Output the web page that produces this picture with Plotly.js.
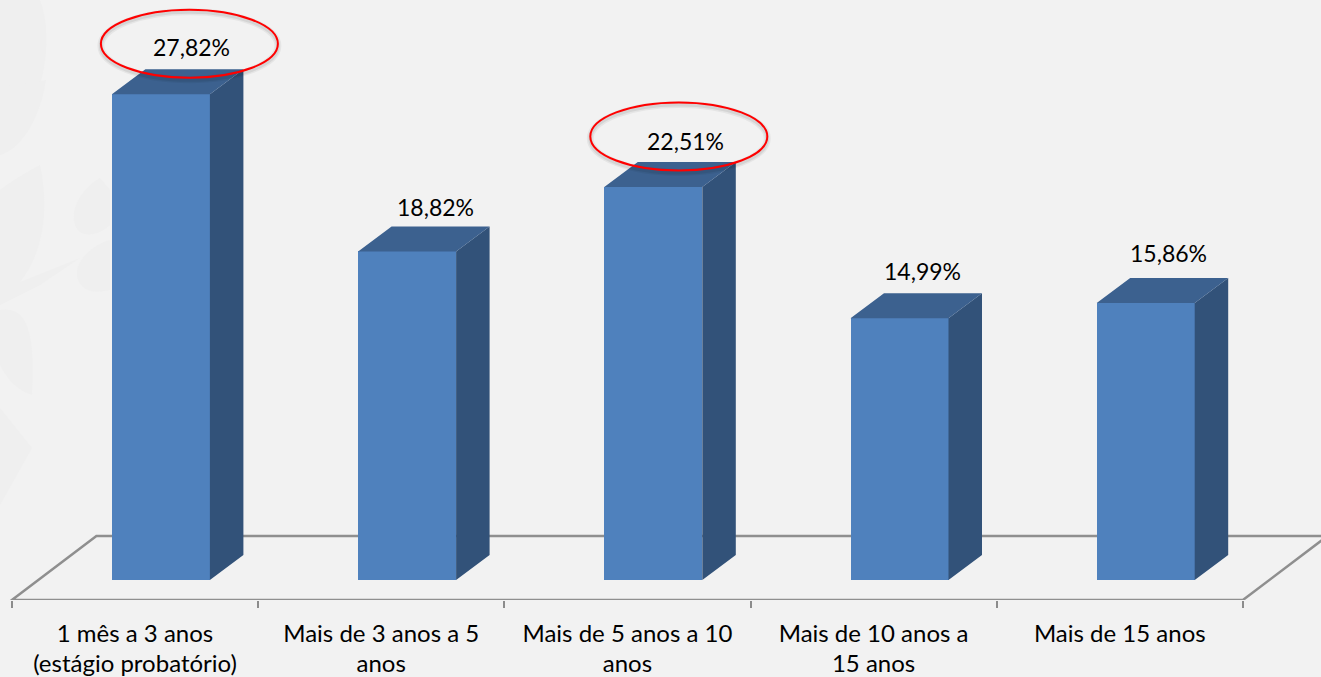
<!DOCTYPE html>
<html><head><meta charset="utf-8">
<script src="https://cdn.plot.ly/plotly-3.0.1.min.js"></script>
<style>html,body{margin:0;padding:0;background:#f2f2f2;overflow:hidden}#c{width:1321px;height:677px}</style>
</head><body><div id="c"></div>
<script>
const categories = ["1 mês a 3 anos","Mais de 3 anos a 5","Mais de 5 anos a 10","Mais de 10 anos a","Mais de 15 anos"];
const categoriesLine2 = ["(estágio probatório)","anos","anos","15 anos",""];
const values = [27.82,18.82,22.51,14.99,15.86];
const highlighted = [0,2];

// layout constants (pixels per unit, 3-D offsets)
const W=1321,H=677,floorPx=600,zeroPx=580,pxPerUnit=17.46,xStep=246.2,x0Px=135;
const xr=[(0-x0Px)/xStep,(W-x0Px)/xStep], yr=[(zeroPx-floorPx)/pxPerUnit,zeroPx/pxPerUnit];
const barOff=25.9/xStep, barW=98/xStep, depthX=33.5/xStep, depthY=25/pxPerUnit;
const labelDx=[30.5,28.5,32.5,22.5,22.5], labelDy=[47,44,46,47,50];
const pos=values.map((_,i)=>i), barX=pos.map(p=>p+barOff);
const ticks=[-0.5,0.5,1.5,2.5,3.5,4.5];

const sideX=[],sideY=[],topX=[],topY=[];
values.forEach((v,i)=>{
  const r=barX[i]+barW/2,l=barX[i]-barW/2;
  sideX.push(r,r+depthX,r+depthX,r,r,null); sideY.push(0,depthY,v+depthY,v,0,null);
  topX.push(l,l+depthX,r+depthX,r,l,null); topY.push(v,v+depthY,v+depthY,v,v,null);
});
const traces=[
 {type:'bar',x:barX,y:values,width:barW,marker:{color:'#4f81bd',line:{width:0}},hoverinfo:'skip'},
 {type:'scatter',mode:'lines',xaxis:'x2',x:sideX,y:sideY,fill:'toself',fillcolor:'#325279',line:{width:0,color:'#325279'},hoverinfo:'skip',cliponaxis:false},
 {type:'scatter',mode:'lines',xaxis:'x2',x:topX,y:topY,fill:'toself',fillcolor:'#3c618f',line:{width:0,color:'#3c618f'},hoverinfo:'skip',cliponaxis:false}
];

const fb=yr[0], bb=(zeroPx-536)/pxPerUnit, dbx=84.5/xStep;
const floorPath=`M ${ticks[0]} ${fb} L ${ticks[0]+dbx} ${bb} L ${ticks[5]+dbx} ${bb} L ${ticks[5]} ${fb} Z`;

const leaves=[
 "M0,0 L40,0 C55,40 45,110 0,150 Z",
 "M0,86 C30,84 46,80 46,80 C40,120 20,150 0,155 Z",
 "M0,190 C20,175 40,165 40,165 C50,210 45,270 0,300 Z",
 "M100,178 C80,190 70,210 75,225 C80,240 100,235 110,225 L110,190 Z",
 "M110,240 C90,245 72,265 78,280 C85,295 100,292 110,290 Z",
 "M0,290 L80,258 L40,285 L0,305 Z",
 "M0,310 C30,305 35,340 32,395 C15,390 5,375 0,365 Z",
 "M0,408 L32,448 L0,505 Z"
].map(p=>({type:'path',path:p,xref:'paper',yref:'paper',layer:'below',line:{width:0},fillcolor:'#efefef'}));
// leaves use pixel coordinates: converted below
leaves.forEach(s=>{
  s.path=s.path.replace(/(-?\d+),(-?\d+)/g,(m,a,b)=>`${(+a)/W},${1-(+b)/floorPx}`);
});

const ellipses=[];
highlighted.forEach(i=>{
  const mk=(w,col,dy)=>({type:'circle',xref:'x',yref:'y',xsizemode:'pixel',ysizemode:'pixel',
    xanchor:barX[i],yanchor:values[i],x0:[28.5-88.5,0,25.5-88.5][i],x1:[28.5+88.5,0,25.5+88.5][i],
    y0:16.5-dy,y1:84.5-dy,line:{color:col,width:w},fillcolor:'rgba(0,0,0,0)',layer:'above'});
  ellipses.push(mk(7,'rgba(0,0,0,0.05)',2),mk(4,'rgba(0,0,0,0.07)',2),mk(2,'#ff0000',0));
});

const annos=values.map((v,i)=>({x:barX[i],y:v,xref:'x',yref:'y',showarrow:false,xshift:labelDx[i],yshift:labelDy[i],
  xanchor:'center',yanchor:'middle',text:v.toFixed(2).replace('.',',')+'%',font:{family:'Lato, sans-serif',size:23,color:'#000'}}));

const axisFont={family:'Lato, sans-serif',size:24,color:'#000'};
const layout={width:W,height:H,margin:{l:0,r:0,t:0,b:H-floorPx,pad:0},paper_bgcolor:'#f2f2f2',plot_bgcolor:'rgba(0,0,0,0)',
 showlegend:false,hovermode:false,bargap:0,
 xaxis:{type:'linear',range:xr,tickmode:'array',tickvals:pos,ticktext:categories,ticks:'',showline:false,showgrid:false,zeroline:false,
   tickangle:0,tickfont:axisFont,ticklabelstandoff:17,automargin:false,
   minor:{tickmode:'array',tickvals:ticks,ticks:'outside',ticklen:7,tickwidth:2,tickcolor:'#8c8c8c',showgrid:false}},
 xaxis2:{type:'linear',overlaying:'x',side:'bottom',anchor:'y',range:xr,tickmode:'array',tickvals:pos,ticktext:categoriesLine2,ticks:'',showline:false,showgrid:false,zeroline:false,
   tickangle:0,tickfont:axisFont,ticklabelstandoff:47,automargin:false},
 yaxis:{range:yr,visible:false,showgrid:false,zeroline:false,fixedrange:true},
 shapes:[...leaves,{type:'path',path:floorPath,xref:'x',yref:'y',layer:'below',line:{color:'#8f8f8f',width:2.5},fillcolor:'rgba(0,0,0,0)'},...ellipses],
 annotations:annos
};
Plotly.newPlot('c',traces,layout,{displayModeBar:false,staticPlot:true});
</script></body></html>
